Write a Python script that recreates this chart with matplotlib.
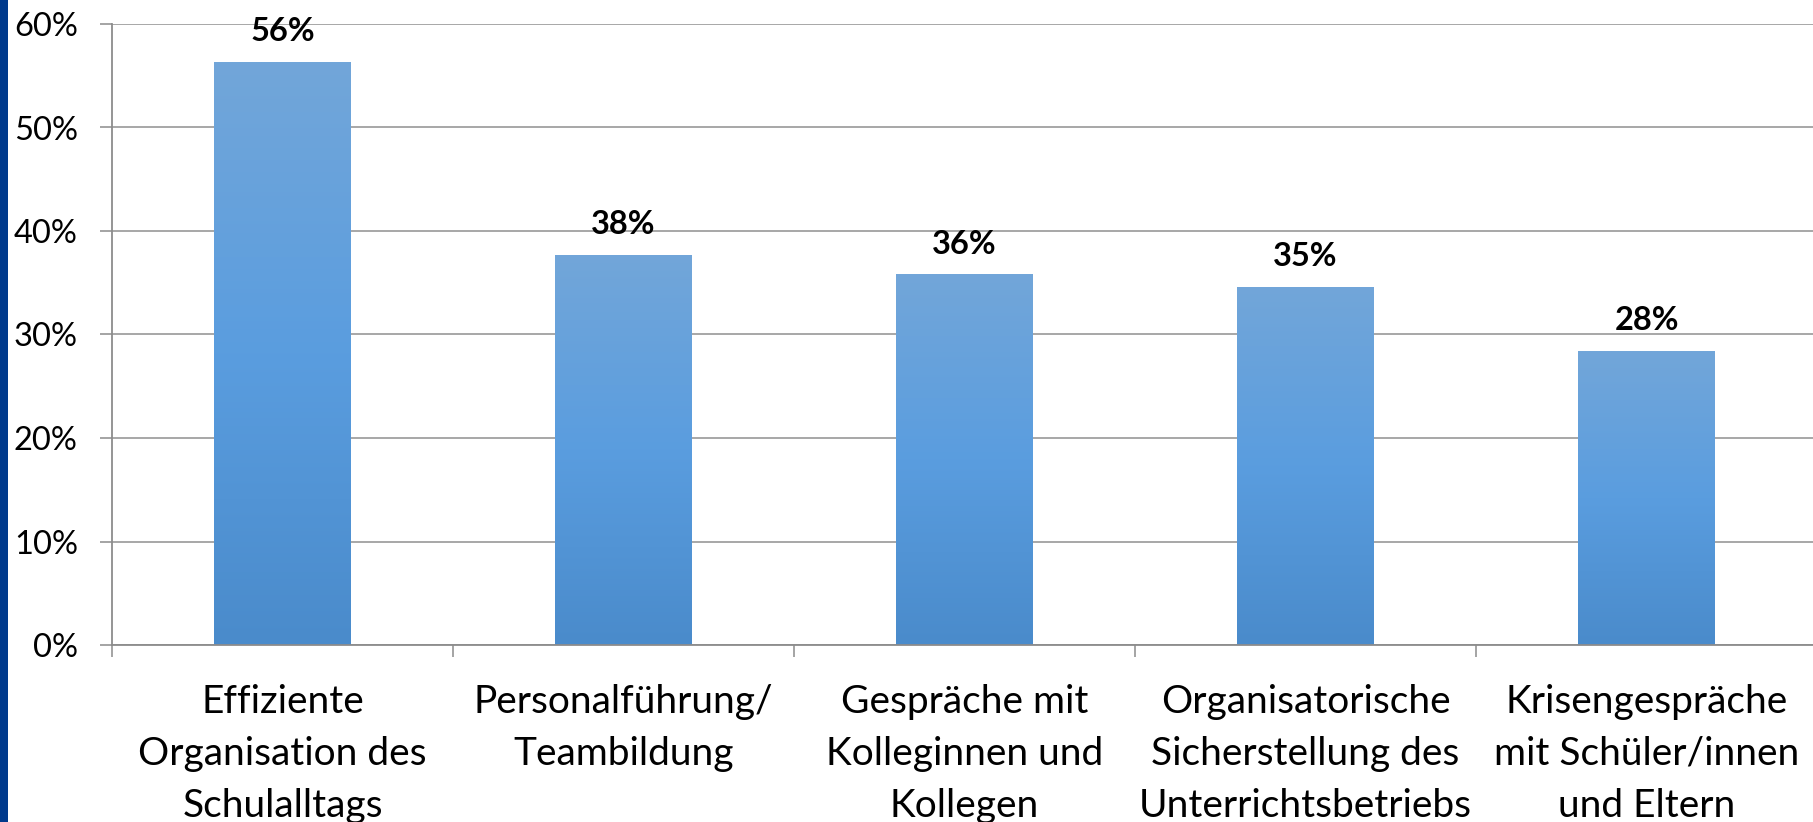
import numpy as np
import matplotlib
matplotlib.use('Agg')
import matplotlib.pyplot as plt
from matplotlib.colors import LinearSegmentedColormap
from matplotlib.patches import Rectangle

# data
categories = ['Effiziente\nOrganisation des\nSchulalltags',
              'Personalführung/\nTeambildung',
              'Gespräche mit\nKolleginnen und\nKollegen',
              'Organisatorische\nSicherstellung des\nUnterrichtsbetriebs',
              'Krisengespräche\nmit Schüler/innen\nund Eltern']
values = [56.3, 37.7, 35.8, 34.6, 28.4]
value_labels = ['56%', '38%', '36%', '35%', '28%']
y_ticks = [0, 10, 20, 30, 40, 50, 60]
y_tick_labels = ['0%', '10%', '20%', '30%', '40%', '50%', '60%']

plt.rcParams['font.family'] = ['Lato', 'DejaVu Sans']

W, H = 1813, 822
fig = plt.figure(figsize=(W / 100, H / 100), dpi=100)

# dark blue strip on the left edge
fig.patches.append(Rectangle((0, 0), 8 / W, 1, transform=fig.transFigure,
                             facecolor='#003a8c', edgecolor='none', zorder=0))

ax = fig.add_axes([112 / W, 1 - 645 / H, 1705 / W, 621 / H])

x = np.arange(len(categories))
bars = ax.bar(x, values, width=0.4, color='#5c9bd9', zorder=2)

# vertical gradient on each bar
cmap = LinearSegmentedColormap.from_list('bar', ['#4a8bcb', '#5a9ddf', '#72a6d9'])
grad = np.linspace(0, 1, 256).reshape(-1, 1)
for b in bars:
    x0, y0 = b.get_xy()
    im = ax.imshow(grad, cmap=cmap, origin='lower', aspect='auto',
                   extent=[x0, x0 + b.get_width(), y0, y0 + b.get_height()], zorder=2.5)
    im.set_clip_path(b)

for xi, v, lab in zip(x, values, value_labels):
    ax.annotate(lab, (xi, v), xytext=(0, 15), textcoords='offset points',
                ha='center', va='baseline', fontsize=23.5, fontweight='bold',
                annotation_clip=False)

ax.set_xlim(-0.5, 4.5)
ax.set_ylim(0, 60)

ax.set_yticks(y_ticks)
ax.set_yticklabels(y_tick_labels, fontsize=23.5)
ax.tick_params(axis='y', length=8.6, width=1.1, color='#8c8c8c', pad=16)

ax.set_xticks(x)
ax.set_xticklabels(categories, fontsize=28, linespacing=1.55)
ax.set_xticks(np.arange(-0.5, 5, 1), minor=True)
ax.tick_params(axis='x', which='major', length=0, pad=28)
ax.tick_params(axis='x', which='minor', length=8.6, width=1.1, color='#8c8c8c')

ax.yaxis.grid(True, color='#a0a0a0', linewidth=1.3)
ax.set_axisbelow(True)
for s in ['top', 'right']:
    ax.spines[s].set_visible(False)
for s in ['left', 'bottom']:
    ax.spines[s].set_color('#8c8c8c')
    ax.spines[s].set_linewidth(1.3)

plt.savefig('out.png', dpi=100)
